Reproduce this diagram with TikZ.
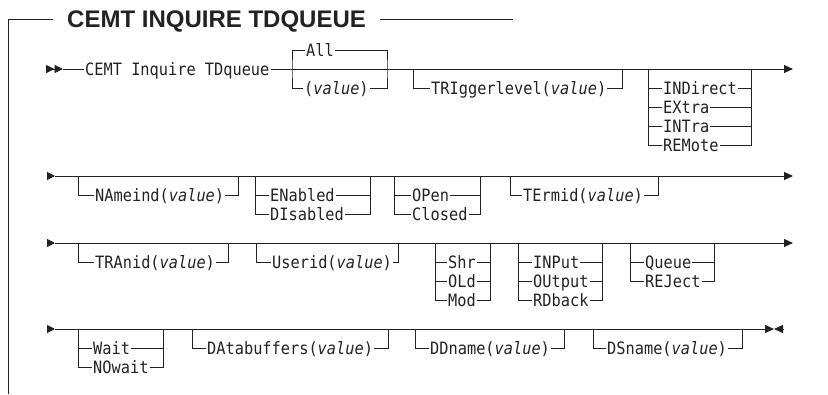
\documentclass[tikz,border=0pt]{standalone}
\usepackage{fontspec}
\usepackage{tikz}
\usetikzlibrary{arrows.meta,positioning,calc}
\newfontfamily\sdmono{DejaVu Sans Mono}[FakeStretch=0.9, ItalicFont={DejaVu Sans Mono Oblique}, ItalicFeatures={FakeStretch=0.9}]
\newfontfamily\sdhead{Liberation Sans}
\definecolor{sdInk}{HTML}{222222}
\tikzset{
  rail/.style={draw=sdInk, line width=0.85pt},
  frameline/.style={draw=sdInk, line width=0.9pt},
  kw/.style={font=\sdmono\fontsize{17}{20}\selectfont, text=sdInk, inner xsep=1pt, inner ysep=0pt,
    text height=12.4pt, text depth=0pt, anchor=west},
  headtext/.style={font=\sdhead\bfseries\fontsize{24}{28}\selectfont, text=sdInk, inner sep=0pt, anchor=base west},
  railstart/.style={rail, -{Triangle[length=8pt,width=8pt]}},
  railbegin/.style={rail, -{Triangle[length=8.5pt,width=8pt,sep=0pt] Triangle[length=8.5pt,width=8pt]}},
  railend/.style={rail, -{Triangle[length=9pt,width=8pt]}}
}
\newcommand{\val}{\textit{value}}

\begin{document}
\begin{tikzpicture}[x=1pt, y=-1pt]
  \useasboundingbox (0,0) rectangle (828,394);
  % frame and heading
  \node[headtext] (title) at (67,27) {CEMT INQUIRE TDQUEUE};
  \coordinate (fBot) at (8,394); \coordinate (fTop) at (8,19);
  \coordinate (fL) at (53,19); \coordinate (fR) at (380,19); \coordinate (fEnd) at (513,19);
  \draw[frameline] (fBot) -- (fTop) -- (fL);
  \draw[frameline] (fR) -- (fEnd);

  % row 1
  \coordinate (r1a) at (46,69); \coordinate (r1b) at (63,69); \coordinate (r1e) at (793,69);
  \node[kw] (cemt) at (84,69) {CEMT Inquire TDqueue};
  \draw[railbegin] (r1a) -- (r1b);
  \draw[rail] (r1b) -- (cemt.west);
  \draw[railend] (cemt.east) -- (r1e);
  \coordinate (allL) at (292,69); \coordinate (allR) at (387,69);
  \node[kw] (all) at (305,50) {All};
  \node[kw] (allv) at (303,88) {(\val)};
  \draw[rail] (allv.west) -| (allL) |- (all.west);
  \draw[rail] (all.east) -| (allR) |- (allv.east);
  \coordinate (trigL) at (413,69); \coordinate (trigR) at (622,69);
  \node[kw] (trig) at (430,88) {TRIggerlevel(\val)};
  \draw[rail] (trigL) |- (trig.west); \draw[rail] (trig.east) -| (trigR);
  \coordinate (dstL) at (648,69); \coordinate (dstR) at (751,69);
  \node[kw] (indirect) at (662,88) {INDirect};
  \node[kw] (extra) at (662,107) {EXtra};
  \node[kw] (intra) at (662,126) {INTra};
  \node[kw] (remote) at (662,145) {REMote};
  \draw[rail] (dstL) |- (remote.west); \draw[rail] (remote.east) -| (dstR);
  \foreach \n in {indirect,extra,intra}
    \draw[rail] (\n.west -| dstL) -- (\n.west) (\n.east) -- (\n.east -| dstR);

  % row 2
  \coordinate (r2a) at (47,176); \coordinate (r2b) at (55,176); \coordinate (r2e) at (793,176);
  \draw[railstart] (r2a) -- (r2b); \draw[railend] (r2b) -- (r2e);
  \coordinate (nameL) at (78,176); \coordinate (nameR) at (238,176);
  \node[kw] (nameind) at (94,195) {NAmeind(\val)};
  \draw[rail] (nameL) |- (nameind.west); \draw[rail] (nameind.east) -| (nameR);
  \coordinate (enaL) at (255,176); \coordinate (enaR) at (370,176);
  \node[kw] (enabled) at (269,195) {ENabled};
  \node[kw] (disabled) at (269,214) {DIsabled};
  \draw[rail] (enaL) |- (disabled.west); \draw[rail] (disabled.east) -| (enaR);
  \draw[rail] (enabled.west -| enaL) -- (enabled.west) (enabled.east) -- (enabled.east -| enaR);
  \coordinate (openL) at (394,176); \coordinate (openR) at (480,176);
  \node[kw] (open) at (411,195) {OPen};
  \node[kw] (closed) at (411,214) {Closed};
  \draw[rail] (openL) |- (closed.west); \draw[rail] (closed.east) -| (openR);
  \draw[rail] (open.west -| openL) -- (open.west) (open.east) -- (open.east -| openR);
  \coordinate (termL) at (510,176); \coordinate (termR) at (658,176);
  \node[kw] (termid) at (522,195) {TErmid(\val)};
  \draw[rail] (termL) |- (termid.west); \draw[rail] (termid.east) -| (termR);

  % row 3
  \coordinate (r3a) at (47,243); \coordinate (r3b) at (55,243); \coordinate (r3e) at (793,243);
  \draw[railstart] (r3a) -- (r3b); \draw[railend] (r3b) -- (r3e);
  \coordinate (tranL) at (78,243); \coordinate (tranR) at (228,243);
  \node[kw] (tranid) at (94,262) {TRAnid(\val)};
  \draw[rail] (tranL) |- (tranid.west); \draw[rail] (tranid.east) -| (tranR);
  \coordinate (userL) at (256,243); \coordinate (userR) at (398,243);
  \node[kw] (userid) at (271,262) {Userid(\val)};
  \draw[rail] (userL) |- (userid.west); \draw[rail] (userid.east) -| (userR);
  \coordinate (shrL) at (435,243); \coordinate (shrR) at (490,243);
  \node[kw] (shr) at (447,262) {Shr};
  \node[kw] (old) at (447,281) {OLd};
  \node[kw] (mod) at (447,300) {Mod};
  \draw[rail] (shrL) |- (mod.west); \draw[rail] (mod.east) -| (shrR);
  \foreach \n in {shr,old}
    \draw[rail] (\n.west -| shrL) -- (\n.west) (\n.east) -- (\n.east -| shrR);
  \coordinate (inpL) at (518,243); \coordinate (inpR) at (602,243);
  \node[kw] (input) at (532,262) {INPut};
  \node[kw] (output) at (532,281) {OUtput};
  \node[kw] (rdback) at (532,300) {RDback};
  \draw[rail] (inpL) |- (rdback.west); \draw[rail] (rdback.east) -| (inpR);
  \foreach \n in {input,output}
    \draw[rail] (\n.west -| inpL) -- (\n.west) (\n.east) -- (\n.east -| inpR);
  \coordinate (queL) at (630,243); \coordinate (queR) at (714,243);
  \node[kw] (queue) at (644,262) {Queue};
  \node[kw] (reject) at (644,281) {REJect};
  \draw[rail] (queL) |- (reject.west); \draw[rail] (reject.east) -| (queR);
  \draw[rail] (queue.west -| queL) -- (queue.west) (queue.east) -- (queue.east -| queR);

  % row 4
  \coordinate (r4a) at (47,329); \coordinate (r4b) at (55,329);
  \coordinate (r4m) at (774,329); \coordinate (r4e) at (783,329);
  \draw[railstart] (r4a) -- (r4b); \draw[railend] (r4b) -- (r4m); \draw[railend] (r4e) -- (r4m);
  \coordinate (waitL) at (78,329); \coordinate (waitR) at (163,329);
  \node[kw] (wait) at (92,348) {Wait};
  \node[kw] (nowait) at (92,367) {NOwait};
  \draw[rail] (waitL) |- (nowait.west); \draw[rail] (nowait.east) -| (waitR);
  \draw[rail] (wait.west -| waitL) -- (wait.west) (wait.east) -- (wait.east -| waitR);
  \coordinate (dataL) at (192,329); \coordinate (dataR) at (388,329);
  \node[kw] (databuf) at (206,348) {DAtabuffers(\val)};
  \draw[rail] (dataL) |- (databuf.west); \draw[rail] (databuf.east) -| (dataR);
  \coordinate (ddnL) at (415,329); \coordinate (ddnR) at (564,329);
  \node[kw] (ddname) at (429,348) {DDname(\val)};
  \draw[rail] (ddnL) |- (ddname.west); \draw[rail] (ddname.east) -| (ddnR);
  \coordinate (dsnL) at (593,329); \coordinate (dsnR) at (742,329);
  \node[kw] (dsname) at (606,348) {DSname(\val)};
  \draw[rail] (dsnL) |- (dsname.west); \draw[rail] (dsname.east) -| (dsnR);
\end{tikzpicture}
\end{document}
